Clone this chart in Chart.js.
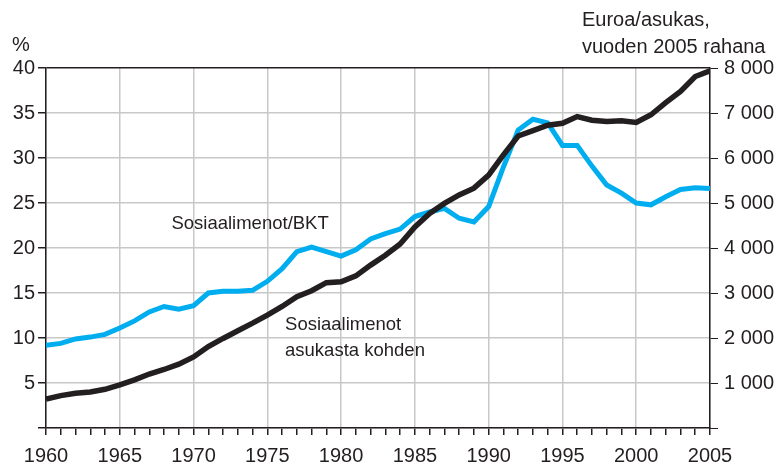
<!DOCTYPE html>
<html>
<head>
<meta charset="utf-8">
<script src="https://cdn.jsdelivr.net/npm/chart.js@4/dist/chart.umd.min.js"></script>
<style>
  body { margin: 0; background: #fff; }
  #wrap { width: 781px; height: 467px; }
</style>
</head>
<body>
<div id="wrap"><canvas id="myChart" width="781" height="467"></canvas></div>
<script>
// years 1960..2005
const years = [];
for (let y = 1960; y <= 2005; y++) years.push(y);

// Sosiaalimenot/BKT, %
const bktShare = [9.2, 9.4, 9.9, 10.1, 10.4, 11.1, 11.9, 12.9, 13.5, 13.2,
  13.6, 15.0, 15.2, 15.2, 15.3, 16.3, 17.7, 19.6, 20.1, 19.6,
  19.1, 19.8, 21.0, 21.6, 22.1, 23.5, 24.0, 24.4, 23.3, 22.9,
  24.6, 29.0, 33.1, 34.3, 33.9, 31.4, 31.4, 29.1, 27.0, 26.1,
  25.0, 24.8, 25.7, 26.5, 26.7, 26.6];

// Sosiaalimenot asukasta kohden, euroa (vuoden 2005 rahana)
const perCapita = [640, 720, 770, 800, 860, 960, 1070, 1200, 1300, 1420,
  1580, 1810, 1990, 2160, 2330, 2510, 2700, 2920, 3050, 3230,
  3250, 3380, 3620, 3840, 4090, 4470, 4770, 4990, 5180, 5330,
  5620, 6070, 6490, 6610, 6730, 6770, 6920, 6840, 6810, 6830,
  6790, 6960, 7230, 7480, 7810, 7940];

const pctTicks = [5, 10, 15, 20, 25, 30, 35, 40];
const euroTicks = [1000, 2000, 3000, 4000, 5000, 6000, 7000, 8000];

const ink = '#231f20';
const blue = '#00aeef';
const gridGray = '#c8c8c8';
const font = { family: 'Liberation Sans, Arial, sans-serif', size: 20 };

const textPlugin = {
  id: 'texts',
  afterDraw(chart) {
    const ctx = chart.ctx;
    const x = chart.scales.x, y = chart.scales.y;
    ctx.save();
    ctx.fillStyle = ink;
    ctx.font = '20px Liberation Sans, Arial, sans-serif';
    ctx.textBaseline = 'middle';
    ctx.textAlign = 'left';
    ctx.fillText('%', 12, 45);
    ctx.fillText('Euroa/asukas,', 582, 20);
    ctx.fillText('vuoden 2005 rahana', 582, 47);
    ctx.font = '18.5px Liberation Sans, Arial, sans-serif';
    ctx.fillText('Sosiaalimenot/BKT', x.getPixelForValue(1968.5), y.getPixelForValue(22.7));
    ctx.fillText('Sosiaalimenot', x.getPixelForValue(1976.2), y.getPixelForValue(11.4));
    ctx.fillText('asukasta kohden', x.getPixelForValue(1976.2), y.getPixelForValue(8.6));
    ctx.restore();
  }
};

const chart = new Chart(document.getElementById('myChart'), {
  type: 'line',
  data: {
    datasets: [
      {
        label: 'Sosiaalimenot asukasta kohden',
        data: years.map((yr, i) => ({ x: yr, y: perCapita[i] })),
        yAxisID: 'y1',
        borderColor: ink,
        borderWidth: 5.5,
        pointRadius: 0,
        tension: 0
      },
      {
        label: 'Sosiaalimenot/BKT',
        data: years.map((yr, i) => ({ x: yr, y: bktShare[i] })),
        yAxisID: 'y',
        borderColor: blue,
        borderWidth: 5,
        pointRadius: 0,
        tension: 0
      }
    ]
  },
  options: {
    responsive: false,
    animation: false,
    layout: { padding: { top: 68, left: 0, right: 0, bottom: 0 } },
    plugins: { legend: { display: false }, tooltip: { enabled: false } },
    scales: {
      x: {
        type: 'linear',
        min: 1960,
        max: 2005,
        afterFit: (s) => { s.height = 39; },
        border: { color: ink, width: 1.5 },
        grid: {
          color: (c) => (c.tick && c.tick.value % 5 === 0 ? gridGray : 'rgba(0,0,0,0)'),
          tickColor: ink,
          tickLength: 7,
          lineWidth: 1.5
        },
        ticks: {
          stepSize: 1,
          autoSkip: false,
          maxRotation: 0,
          color: ink,
          font: font,
          padding: 9,
          callback: (v) => (v % 5 === 0 ? String(v) : '')
        }
      },
      y: {
        position: 'left',
        min: 0,
        max: 40,
        afterFit: (s) => { s.width = 46; },
        border: { color: ink, width: 1.5 },
        grid: {
          color: (c) => (c.tick && c.tick.value === 40 ? ink : gridGray),
          tickColor: ink,
          tickLength: 8,
          lineWidth: 1.5
        },
        afterBuildTicks: (s) => { s.ticks = [0].concat(pctTicks).map(v => ({ value: v })); },
        ticks: {
          color: ink,
          font: font,
          padding: 3,
          callback: (v) => (v === 0 ? '' : String(v))
        }
      },
      y1: {
        position: 'right',
        min: 0,
        max: 8000,
        afterFit: (s) => { s.width = 71; },
        border: { color: ink, width: 1.5 },
        grid: { drawOnChartArea: false, tickColor: ink, tickLength: 8 },
        afterBuildTicks: (s) => { s.ticks = [0].concat(euroTicks).map(v => ({ value: v })); },
        ticks: {
          color: ink,
          font: font,
          padding: 6,
          callback: (v) => (v === 0 ? '' : String(v).replace(/(\d)(\d{3})$/, '$1 $2'))
        }
      }
    }
  },
  plugins: [textPlugin]
});
</script>
</body>
</html>
